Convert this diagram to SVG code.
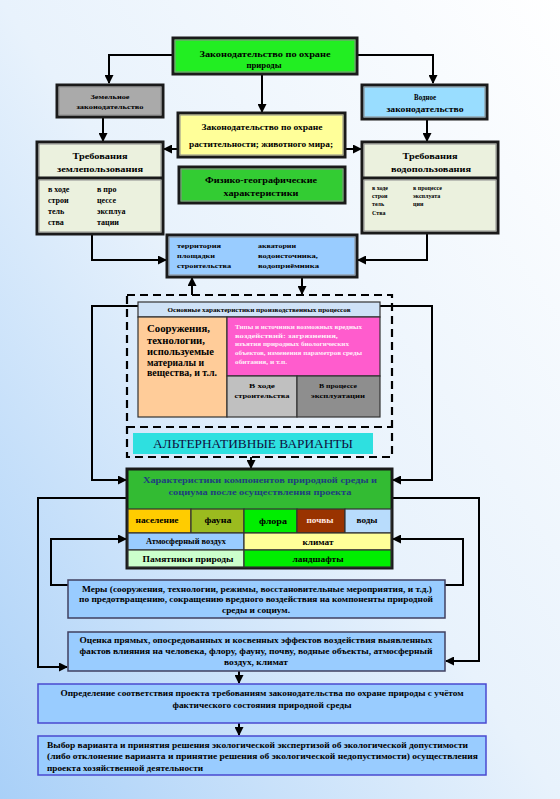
<svg xmlns="http://www.w3.org/2000/svg" width="560" height="799" viewBox="0 0 560 799">
<defs>
<linearGradient id="bg" x1="1" y1="0" x2="0" y2="1">
<stop offset="0" stop-color="#ffffff"/>
<stop offset="0.5" stop-color="#e8f2fc"/>
<stop offset="1" stop-color="#a9d0f8"/>
</linearGradient>
<marker id="ar" markerUnits="userSpaceOnUse" markerWidth="9" markerHeight="9" refX="8" refY="4.5" orient="auto">
<path d="M0,0 L9,4.5 L0,9 z" fill="#000"/>
</marker>
<style>
text{font-family:"Liberation Serif","Times New Roman",serif;font-weight:bold;fill:#000}
.c{text-anchor:middle}
.bx{stroke:#1a1a1a;stroke-width:3}
.in{fill:none;stroke:#8c8c8c;stroke-width:1}
.th{stroke:#333;stroke-width:1.2}
.ln{fill:none;stroke:#000;stroke-width:2}
.la{fill:none;stroke:#000;stroke-width:2;marker-end:url(#ar)}
.dash{fill:none;stroke:#000;stroke-width:2.2;stroke-dasharray:8 5}
.bb{fill:#99ccff;stroke:#404060;stroke-width:1.5}
.bv{fill:#99ccff;stroke:#4a4ad0;stroke-width:1.5}
</style>
</defs>
<rect x="0" y="0" width="560" height="799" fill="url(#bg)"/>

<g id="connectors">
<path class="la" d="M173,55 H109 V83"/>
<path class="la" d="M357,55 H433 V83"/>
<path class="la" d="M262,74 V112"/>
<path class="la" d="M103,117 V141"/>
<path class="la" d="M427,119 V141"/>
<path class="la" d="M178,149 H164"/>
<path class="la" d="M345,149 H361"/>
<path class="la" d="M92,234 V260 H166"/>
<path class="la" d="M427,233 V260 H358"/>
<path class="la" d="M192,295 V278"/>
<path class="la" d="M302,277 V294"/>
<path class="la" d="M138,306 H92 V480 H126"/>
<path class="la" d="M380,306 H432 V480 H393"/>
<path class="la" d="M251,457 V468"/>
<path class="la" d="M127,498 H38 V667 H67"/>
<path class="la" d="M392,498 H479 V661 H446"/>
<path class="la" d="M68,585 H51 V539 H126"/>
<path class="la" d="M445,585 H463 V539 H393"/>
<path class="la" d="M239,671 V683"/>
<path class="la" d="M239,723 V735"/>
</g>

<g id="n-law">
<rect class="bx" x="173" y="38" width="184" height="36" fill="#22ee22"/>
<rect class="in" x="175" y="40" width="180" height="32"/>
<text class="c" x="265" y="57" font-size="9" textLength="131" lengthAdjust="spacingAndGlyphs">Законодательство по охране</text>
<text class="c" x="264" y="68" font-size="9" textLength="35" lengthAdjust="spacingAndGlyphs">природы</text>
</g>

<g id="n-land">
<rect class="bx" x="57" y="85" width="106" height="32" fill="#aaaaaa"/>
<rect class="in" x="59" y="87" width="102" height="28"/>
<text class="c" x="110" y="99" font-size="7" textLength="39" lengthAdjust="spacingAndGlyphs">Земельное</text>
<text class="c" x="110" y="109" font-size="7" textLength="67" lengthAdjust="spacingAndGlyphs">законодательство</text>
</g>

<g id="n-water">
<rect class="bx" x="362" y="85" width="125" height="34" fill="#99ddff"/>
<rect class="in" x="364" y="87" width="121" height="30"/>
<text class="c" x="425" y="100" font-size="8" textLength="22" lengthAdjust="spacingAndGlyphs">Водное</text>
<text class="c" x="425" y="112" font-size="8" textLength="77" lengthAdjust="spacingAndGlyphs">законодательство</text>
</g>

<g id="n-flora-law">
<rect class="bx" x="178" y="113" width="167" height="44" fill="#ffff99"/>
<rect class="in" x="180" y="115" width="163" height="40"/>
<text class="c" x="262" y="130" font-size="8.5" textLength="121" lengthAdjust="spacingAndGlyphs">Законодательство по охране</text>
<text class="c" x="261" y="147" font-size="8.5" textLength="144" lengthAdjust="spacingAndGlyphs">растительности; животного мира;</text>
</g>

<g id="n-req-land">
<rect class="bx" x="37" y="142" width="126" height="92" fill="#ebf1de"/>
<rect class="in" x="39" y="144" width="122" height="88"/>
<line x1="37" y1="178" x2="163" y2="178" stroke="#1a1a1a" stroke-width="3"/>
<line x1="39" y1="180" x2="161" y2="180" stroke="#8c8c8c" stroke-width="1"/>
<text class="c" x="100" y="159" font-size="9" textLength="55" lengthAdjust="spacingAndGlyphs">Требования</text>
<text class="c" x="100" y="172" font-size="9" textLength="86" lengthAdjust="spacingAndGlyphs">землепользования</text>
<text x="48" y="192" font-size="8">в ходе</text>
<text x="48" y="203" font-size="8">строи</text>
<text x="48" y="214" font-size="8">тель</text>
<text x="48" y="225" font-size="8">ства</text>
<text x="97" y="192" font-size="8">в про</text>
<text x="97" y="203" font-size="8">цессе</text>
<text x="97" y="214" font-size="8">эксплуа</text>
<text x="97" y="225" font-size="8">тации</text>
</g>

<g id="n-req-water">
<rect class="bx" x="362" y="142" width="136" height="91" fill="#ebf1de"/>
<rect class="in" x="364" y="144" width="132" height="87"/>
<line x1="362" y1="178" x2="498" y2="178" stroke="#1a1a1a" stroke-width="3"/>
<line x1="364" y1="180" x2="496" y2="180" stroke="#8c8c8c" stroke-width="1"/>
<text class="c" x="430" y="159" font-size="9" textLength="55" lengthAdjust="spacingAndGlyphs">Требования</text>
<text class="c" x="431" y="172" font-size="9" textLength="80" lengthAdjust="spacingAndGlyphs">водопользования</text>
<text x="372" y="190" font-size="6">в ходе</text>
<text x="372" y="198" font-size="6">строи</text>
<text x="372" y="206" font-size="6">тель</text>
<text x="372" y="215" font-size="6">Ства</text>
<text x="413" y="190" font-size="6">в процессе</text>
<text x="413" y="198" font-size="6">эксплуата</text>
<text x="413" y="206" font-size="6">ции</text>
</g>

<g id="n-physgeo">
<rect class="bx" x="179" y="167" width="166" height="36" fill="#33cc33"/>
<rect class="in" x="181" y="169" width="162" height="32"/>
<text class="c" x="261" y="183" font-size="9" textLength="112" lengthAdjust="spacingAndGlyphs">Физико-географические</text>
<text class="c" x="261" y="196" font-size="9" textLength="75" lengthAdjust="spacingAndGlyphs">характеристики</text>
</g>

<g id="n-territory">
<rect class="bx" x="167" y="235" width="190" height="42" fill="#99ccff"/>
<rect class="in" x="169" y="237" width="186" height="38"/>
<text x="177" y="248" font-size="7" textLength="44" lengthAdjust="spacingAndGlyphs">территория</text>
<text x="177" y="258" font-size="7" textLength="38" lengthAdjust="spacingAndGlyphs">площадки</text>
<text x="177" y="268" font-size="7" textLength="54" lengthAdjust="spacingAndGlyphs">строительства</text>
<text x="258" y="248" font-size="7" textLength="38" lengthAdjust="spacingAndGlyphs">акватории</text>
<text x="258" y="258" font-size="7" textLength="60" lengthAdjust="spacingAndGlyphs">водоисточника,</text>
<text x="258" y="268" font-size="7" textLength="61" lengthAdjust="spacingAndGlyphs">водоприёмника</text>
</g>

<g id="n-alternatives-frame">
<rect class="dash" x="127" y="295" width="265" height="162"/>
<line class="dash" x1="127" y1="427" x2="392" y2="427"/>
</g>

<g id="n-processes">
<rect class="th" x="138" y="302" width="242" height="15" fill="#cfe2f7"/>
<text class="c" x="259" y="312" font-size="6" textLength="183" lengthAdjust="spacingAndGlyphs">Основные характеристики производственных процессов</text>
<rect class="th" x="138" y="317" width="89" height="100" fill="#ffcc99"/>
<text x="147" y="332" font-size="9.5" textLength="63" lengthAdjust="spacingAndGlyphs">Сооружения,</text>
<text x="147" y="344" font-size="9.5" textLength="58" lengthAdjust="spacingAndGlyphs">технологии,</text>
<text x="147" y="355" font-size="9.5" textLength="67" lengthAdjust="spacingAndGlyphs">используемые</text>
<text x="147" y="366" font-size="9.5" textLength="57" lengthAdjust="spacingAndGlyphs">материалы и</text>
<text x="147" y="376" font-size="9.5" textLength="70" lengthAdjust="spacingAndGlyphs">вещества, и т.л.</text>
<rect class="th" x="227" y="317" width="153" height="59" fill="#ff5ccd"/>
<text x="235" y="329" font-size="5.5" style="fill:#ffeefa" textLength="127" lengthAdjust="spacingAndGlyphs">Типы и источники возможных вредных</text>
<text x="235" y="338" font-size="5.5" style="fill:#ffeefa" textLength="103" lengthAdjust="spacingAndGlyphs">воздействий: загрязнения,</text>
<text x="235" y="346" font-size="5.5" style="fill:#ffeefa" textLength="114" lengthAdjust="spacingAndGlyphs">изъятия природных биологических</text>
<text x="235" y="355" font-size="5.5" style="fill:#ffeefa" textLength="127" lengthAdjust="spacingAndGlyphs">объектов, изменения параметров среды</text>
<text x="235" y="364" font-size="5.5" style="fill:#ffeefa" textLength="52" lengthAdjust="spacingAndGlyphs">обитания, и т.п.</text>
<rect class="th" x="227" y="376" width="70" height="41" fill="#c0c0c0"/>
<text class="c" x="262" y="388" font-size="7" textLength="26" lengthAdjust="spacingAndGlyphs">В ходе</text>
<text class="c" x="262" y="398" font-size="7" textLength="55" lengthAdjust="spacingAndGlyphs">строительства</text>
<rect class="th" x="297" y="376" width="83" height="41" fill="#8e8e8e"/>
<text class="c" x="338" y="388" font-size="7" textLength="38" lengthAdjust="spacingAndGlyphs">В процессе</text>
<text class="c" x="338" y="398" font-size="7" textLength="54" lengthAdjust="spacingAndGlyphs">эксплуатации</text>
</g>

<g id="n-alternatives">
<rect x="133" y="433" width="240" height="21" fill="#2ee0e0"/>
<text class="c" x="253" y="448" font-size="13" style="font-weight:normal;fill:#101040" textLength="200" lengthAdjust="spacingAndGlyphs">АЛЬТЕРНАТИВНЫЕ ВАРИАНТЫ</text>
</g>

<g id="n-components">
<rect class="bx" x="127" y="469" width="265" height="99" fill="#33bb33"/>
<text class="c" x="260" y="483" font-size="9" style="fill:#1f3f7f" textLength="234" lengthAdjust="spacingAndGlyphs">Характеристики компонентов природной среды и</text>
<text class="c" x="260" y="495" font-size="9" style="fill:#1f3f7f" textLength="183" lengthAdjust="spacingAndGlyphs">социума после осуществления проекта</text>
<rect class="th" x="128" y="509" width="63" height="24" fill="#ffcc00"/>
<rect class="th" x="191" y="509" width="53" height="24" fill="#9bbb1f"/>
<rect class="th" x="244" y="509" width="53" height="24" fill="#00ee00"/>
<rect class="th" x="297" y="509" width="48" height="24" fill="#993300"/>
<rect class="th" x="345" y="509" width="46" height="24" fill="#b8dcfc"/>
<rect class="th" x="128" y="533" width="116" height="17" fill="#99ccff"/>
<rect class="th" x="244" y="533" width="147" height="17" fill="#ffff99"/>
<rect class="th" x="128" y="550" width="116" height="17" fill="#ccffcc"/>
<rect class="th" x="244" y="550" width="147" height="17" fill="#00ee00"/>
<text class="c" x="157" y="523" font-size="7.5" textLength="43" lengthAdjust="spacingAndGlyphs">население</text>
<text class="c" x="218" y="523" font-size="7.5" textLength="27" lengthAdjust="spacingAndGlyphs">фауна</text>
<text class="c" x="273" y="524" font-size="8.5" textLength="28" lengthAdjust="spacingAndGlyphs">флора</text>
<text class="c" x="320" y="523" font-size="7.5" style="fill:#ffe8e0" textLength="27" lengthAdjust="spacingAndGlyphs">почвы</text>
<text class="c" x="367" y="523" font-size="7.5" textLength="21" lengthAdjust="spacingAndGlyphs">воды</text>
<text class="c" x="186" y="544" font-size="7.5" textLength="80" lengthAdjust="spacingAndGlyphs">Атмосферный воздух</text>
<text class="c" x="318" y="545" font-size="8" textLength="31" lengthAdjust="spacingAndGlyphs">климат</text>
<text class="c" x="188" y="562" font-size="8" textLength="91" lengthAdjust="spacingAndGlyphs">Памятники природы</text>
<text class="c" x="318" y="562" font-size="8" textLength="51" lengthAdjust="spacingAndGlyphs">ландшафты</text>
</g>

<g id="n-measures">
<rect class="bb" x="68" y="580" width="377" height="38"/>
<text class="c" x="257" y="592" font-size="8.5" textLength="350" lengthAdjust="spacingAndGlyphs">Меры (сооружения, технологии, режимы, восстановительные мероприятия, и т.д.)</text>
<text class="c" x="256" y="602" font-size="8.5" textLength="354" lengthAdjust="spacingAndGlyphs">по предотвращению, сокращению вредного воздействия на компоненты природной</text>
<text class="c" x="256" y="613" font-size="8.5" textLength="68" lengthAdjust="spacingAndGlyphs">среды и социум.</text>
</g>

<g id="n-assessment">
<rect class="bb" x="68" y="632" width="377" height="39"/>
<text class="c" x="256" y="643" font-size="8.5" textLength="353" lengthAdjust="spacingAndGlyphs">Оценка прямых, опосредованных и косвенных эффектов воздействия выявленных</text>
<text class="c" x="256" y="654" font-size="8.5" textLength="353" lengthAdjust="spacingAndGlyphs">фактов влияния на человека, флору, фауну, почву, водные объекты, атмосферный</text>
<text class="c" x="256" y="665" font-size="8.5" textLength="64" lengthAdjust="spacingAndGlyphs">воздух, климат</text>
</g>

<g id="n-compliance">
<rect class="bv" x="38" y="684" width="448" height="39"/>
<text class="c" x="262" y="696" font-size="8.5" textLength="403" lengthAdjust="spacingAndGlyphs">Определение соответствия проекта требованиям законодательства по охране природы с учётом</text>
<text class="c" x="262" y="708" font-size="8.5" textLength="179" lengthAdjust="spacingAndGlyphs">фактического состояния природной среды</text>
</g>

<g id="n-decision">
<rect class="bv" x="38" y="736" width="448" height="39"/>
<text x="47" y="748" font-size="8.5" textLength="421" lengthAdjust="spacingAndGlyphs">Выбор варианта и принятия решения экологической экспертизой об экологической допустимости</text>
<text x="47" y="759" font-size="8.5" textLength="431" lengthAdjust="spacingAndGlyphs">(либо отклонение варианта и принятие решения об экологической недопустимости) осуществления</text>
<text x="47" y="771" font-size="8.5" textLength="156" lengthAdjust="spacingAndGlyphs">проекта хозяйственной деятельности</text>
</g>
</svg>
